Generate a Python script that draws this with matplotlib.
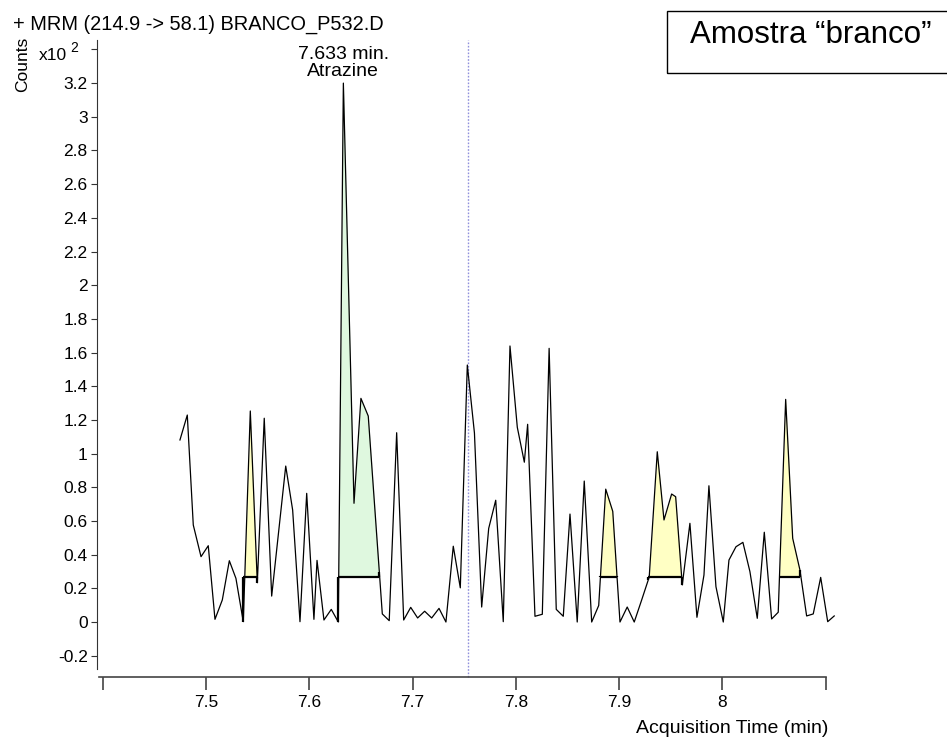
import numpy as np
import matplotlib.pyplot as plt
from matplotlib.patches import Rectangle

# MRM 214.9 -> 58.1, blank sample (values in units of 10^2 counts)
time = [7.4748, 7.4819, 7.4877, 7.4952, 7.5022, 7.5087, 7.5158, 7.5226, 7.5290, 7.5361,
        7.5429, 7.5497, 7.5564, 7.5636, 7.5704, 7.5772, 7.5839, 7.5910, 7.5975, 7.6045,
        7.6075, 7.6142, 7.6213, 7.6281, 7.6330, 7.6433, 7.6500, 7.6571, 7.6639, 7.6707,
        7.6774, 7.6846, 7.6914, 7.6982, 7.7049, 7.7117, 7.7185, 7.7256, 7.7323, 7.7394,
        7.7462, 7.7530, 7.7599, 7.7669, 7.7737, 7.7805, 7.7878, 7.7943, 7.8014, 7.8082,
        7.8114, 7.8185, 7.8256, 7.8322, 7.8391, 7.8459, 7.8524, 7.8594, 7.8662, 7.8734,
        7.8802, 7.8870, 7.8938, 7.9008, 7.9078, 7.9146, 7.9218, 7.9291, 7.9369, 7.9434,
        7.9508, 7.9547, 7.9611, 7.9685, 7.9753, 7.9821, 7.9869, 7.9937, 8.0008, 8.0063,
        8.0131, 8.0198, 8.0266, 8.0337, 8.0405, 8.0476, 8.0540, 8.0612, 8.0680, 8.0750,
        8.0815, 8.0879, 8.0951, 8.1019, 8.1082]
counts = [1.081, 1.229, 0.576, 0.388, 0.453, 0.016, 0.131, 0.364, 0.259, 0.002,
          1.253, 0.233, 1.210, 0.154, 0.540, 0.926, 0.665, 0.002, 0.764, 0.016,
          0.366, 0.012, 0.075, 0.000, 3.200, 0.705, 1.328, 1.223, 0.635, 0.048,
          0.008, 1.124, 0.012, 0.087, 0.024, 0.064, 0.024, 0.081, 0.000, 0.450,
          0.203, 1.526, 1.122, 0.089, 0.556, 0.723, 0.002, 1.639, 1.156, 0.949,
          1.174, 0.034, 0.046, 1.625, 0.075, 0.034, 0.641, 0.000, 0.837, 0.000,
          0.098, 0.789, 0.657, 0.000, 0.089, 0.000, 0.131, 0.267, 1.011, 0.606,
          0.760, 0.744, 0.220, 0.586, 0.028, 0.279, 0.809, 0.210, 0.000, 0.368,
          0.447, 0.473, 0.299, 0.022, 0.533, 0.018, 0.058, 1.322, 0.497, 0.309,
          0.036, 0.048, 0.265, 0.002, 0.036]

# integrated peaks: start, end, baseline level, fill colour
peak_start = [7.5361, 7.6281, 7.8819, 7.9282, 8.0552]
peak_end = [7.5497, 7.6678, 7.8979, 7.9611, 8.0750]
peak_base = [0.268, 0.268, 0.268, 0.268, 0.268]
peak_color = ['#ffffc4', '#dff8df', '#ffffc4', '#ffffc4', '#ffffc4']

rt_atrazine = 7.633
apex_atrazine = 3.2
expected_rt = 7.7534

x_ticks = [7.4, 7.5, 7.6, 7.7, 7.8, 7.9, 8.0, 8.1]
x_ticklabels = ['', '7.5', '7.6', '7.7', '7.8', '7.9', '8', '']
y_ticks = [-0.2, 0, 0.2, 0.4, 0.6, 0.8, 1, 1.2, 1.4, 1.6, 1.8, 2, 2.2, 2.4, 2.6, 2.8, 3, 3.2, 3.4]

plt.rcParams['font.family'] = ['Liberation Sans', 'DejaVu Sans']

W, H = 947, 738
fig = plt.figure(figsize=(W / 100, H / 100), dpi=100)


def fpos(x, y):
    # pixel position (from top-left) -> figure fraction
    return x / W, 1 - y / H


ax = fig.add_axes([96.7 / W, (H - 669) / H, (840 - 96.7) / W, (669 - 40) / H])
ax.set_xlim(7.3942, 8.1138)
ax.set_ylim(-0.279, 3.456)

t = np.array(time)
c = np.array(counts)

# peak areas with their baselines
for s, e, b, col in zip(peak_start, peak_end, peak_base, peak_color):
    xs = np.union1d(np.linspace(s, e, 400), t[(t >= s) & (t <= e)])
    ys = np.interp(xs, t, c)
    ax.fill_between(xs, b, ys, where=ys >= b, interpolate=True, color=col, lw=0, zorder=1)
    ax.plot([s, e], [b, b], color='black', lw=1.6, zorder=3, solid_capstyle='butt')
    for edge in (s, e):
        ax.plot([edge, edge], [b, np.interp(edge, t, c)], color='black', lw=1.6,
                zorder=3, solid_capstyle='butt')

ax.plot(t, c, color='black', lw=0.9, zorder=2)

# expected retention time marker
ax.axvline(expected_rt, ymin=-0.012, ymax=1.0, color='#9090dc', lw=1.0,
           linestyle=(0, (1.2, 1.2)), clip_on=False, zorder=0)

ax.annotate(f'{rt_atrazine:.3f} min.\nAtrazine', xy=(rt_atrazine, apex_atrazine),
            xytext=(0, 2.5), textcoords='offset points', ha='center', va='bottom',
            fontsize=14, linespacing=1.0)

# axes styling
for side in ('top', 'right'):
    ax.spines[side].set_visible(False)
ax.spines['left'].set_color('#333333')
ax.spines['bottom'].set_position(('outward', 5.8))
ax.spines['bottom'].set_bounds(7.396, 8.1)
ax.spines['bottom'].set_color('#444444')
ax.spines['bottom'].set_linewidth(1.2)

ax.set_xticks(x_ticks)
ax.set_xticklabels(x_ticklabels)
ax.set_yticks(y_ticks)
ax.set_yticklabels([f'{v:g}' for v in y_ticks[:-1]] + [''])
ax.tick_params(axis='x', direction='out', length=9.4, width=1.2, color='#444444',
               labelsize=12.5, pad=3.5)
ax.tick_params(axis='y', direction='out', length=4.5, width=0.8, color='#333333',
               labelsize=12.5, pad=2)

# scale factor next to the top tick
fig.text(*fpos(67, 56), 'x10', fontsize=12.5, ha='right', va='center')
fig.text(*fpos(78, 48), '2', fontsize=10, ha='right', va='center')
fig.text(*fpos(23, 64), 'Counts', fontsize=12.5, rotation=90, ha='center', va='center')
fig.text(*fpos(13, 30), '+ MRM (214.9 -> 58.1) BRANCO_P532.D', fontsize=14.4,
         ha='left', va='baseline')
fig.text(*fpos(828, 733), 'Acquisition Time (min)', fontsize=14, ha='right',
         va='baseline')

# sample label box
x0, y0 = fpos(666.7, 72.7)
fig.patches.append(Rectangle((x0, y0), 0.5, 62 / H, transform=fig.transFigure,
                             fill=False, lw=1.0, ec='black'))
fig.text(*fpos(811, 42.7), 'Amostra \u201cbranco\u201d', fontsize=22.5, ha='center',
         va='baseline')

fig.savefig('out.png', dpi=100)
